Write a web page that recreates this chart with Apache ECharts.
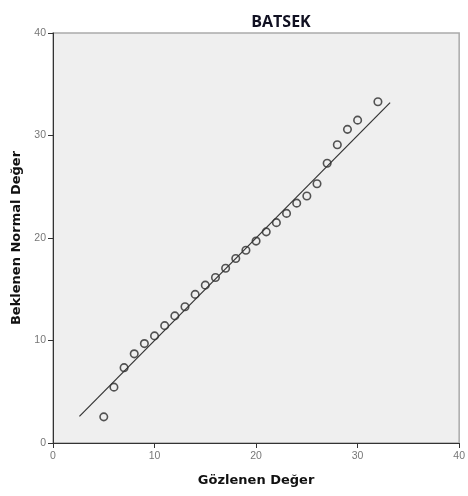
<!DOCTYPE html>
<html>
<head>
<meta charset="utf-8">
<script src="https://cdn.jsdelivr.net/npm/echarts@6/dist/echarts.min.js"></script>
<style>html,body{margin:0;padding:0;background:#fff}#c{width:468px;height:496px}</style>
</head>
<body>
<div id="c"></div>
<script>
var observed = [5, 6, 7, 8, 9, 10, 11, 12, 13, 14, 15, 16, 17, 18, 19, 20, 21, 22, 23, 24, 25, 26, 27, 28, 29, 30, 32];
var expected = [2.55, 5.45, 7.35, 8.7, 9.7, 10.45, 11.45, 12.4, 13.3, 14.5, 15.4, 16.15, 17.05, 18.0, 18.8, 19.7, 20.6, 21.5, 22.4, 23.4, 24.1, 25.3, 27.3, 29.1, 30.6, 31.5, 33.3];
var lineX = [2.6, 33.2];
var lineY = [2.6, 33.2];
var ticks = [0, 10, 20, 30, 40];

var pts = observed.map(function (v, i) { return [v, expected[i]]; });
var refLine = lineX.map(function (v, i) { return [v, lineY[i]]; });

var chart = echarts.init(document.getElementById('c'), null, {renderer: 'canvas'});
var axisCommon = {
  min: ticks[0], max: ticks[ticks.length - 1], interval: 10,
  axisLine: {show: true, onZero: false, lineStyle: {color: '#333', width: 1}},
  axisTick: {show: true, length: 5, lineStyle: {color: '#333'}},
  axisLabel: {color: '#777', fontSize: 10.5, fontFamily: 'Liberation Sans, Arial, sans-serif'},
  splitLine: {show: false},
  nameLocation: 'middle',
  nameTextStyle: {color: '#111', fontSize: 13, fontWeight: 'bold', fontFamily: 'DejaVu Sans, sans-serif'}
};
chart.setOption({
  animation: false,
  title: {
    text: 'BATSEK', left: 276, top: 9, textAlign: 'center',
    textStyle: {color: '#111122', fontSize: 16, fontWeight: 'bold', fontFamily: 'Open Sans, sans-serif'}
  },
  grid: {left: 53, right: 7, top: 33, bottom: 53, show: true, backgroundColor: '#efefef', borderColor: '#aaa', borderWidth: 1.5},
  xAxis: Object.assign({}, axisCommon, {type: 'value', name: 'Gözlenen Değer', nameGap: 31,
    axisLabel: Object.assign({}, axisCommon.axisLabel, {margin: 8})}),
  yAxis: Object.assign({}, axisCommon, {type: 'value', name: 'Beklenen Normal Değer', nameGap: 29,
    axisLabel: Object.assign({}, axisCommon.axisLabel, {margin: 7})}),
  series: [
    {
      type: 'line', data: refLine, symbol: 'none', silent: true,
      lineStyle: {color: '#333', width: 1.2}
    },
    {
      type: 'scatter', data: pts, symbol: 'circle', symbolSize: 7.5,
      itemStyle: {color: 'rgba(0,0,0,0)', borderColor: '#2a2a2a', borderWidth: 1.6}
    }
  ]
});
</script>
</body>
</html>
